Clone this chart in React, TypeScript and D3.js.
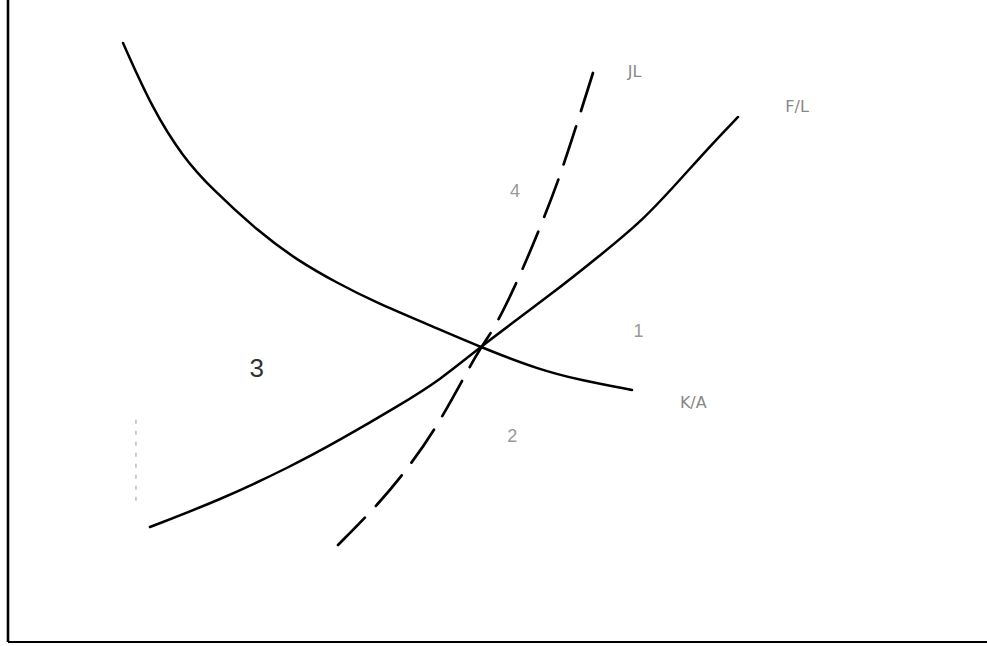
import React from "react";
import * as d3 from "d3";

const W = 987;
const H = 646;

// data in chart units (x: 0..10, y: 0..10)
const kaCurve: [number, number][] = [
  [1.175, 9.33], [1.481, 8.287], [1.788, 7.555], [2.063, 7.087], [2.574, 6.371],
  [2.952, 5.95], [3.361, 5.592], [3.769, 5.28], [4.28, 4.953], [4.821, 4.595],
  [5.434, 4.237], [5.843, 4.081], [6.374, 3.925],
];
const flCurve: [number, number][] = [
  [1.45, 1.791], [2.165, 2.212], [2.88, 2.726], [3.391, 3.146], [4.004, 3.692],
  [4.413, 4.081], [4.821, 4.595], [5.567, 5.436], [6.078, 6.059], [6.486, 6.573],
  [6.834, 7.15], [7.201, 7.773], [7.457, 8.178],
];
const jlCurve: [number, number][] = [
  [5.975, 8.863], [5.792, 7.975], [5.618, 7.165], [5.414, 6.371], [5.179, 5.53],
  [4.944, 4.813], [4.821, 4.595], [4.443, 3.505], [4.137, 2.804], [3.779, 2.134],
  [3.371, 1.511],
];
const curveLabels: { text: string; x: number; y: number }[] = [
  { text: "JL", x: 6.4, y: 8.8 },
  { text: "F/L", x: 8.06, y: 8.26 },
  { text: "K/A", x: 7.0, y: 3.64 },
];
const regionLabels: { text: string; x: number; y: number }[] = [
  { text: "3", x: 2.54, y: 4.13 },
  { text: "4", x: 5.18, y: 6.93 },
  { text: "1", x: 6.44, y: 4.75 },
  { text: "2", x: 5.15, y: 3.12 },
];
const guide: [number, number][] = [[1.307, 3.46], [1.307, 2.13]];

export default function App() {
  const x = d3.scaleLinear().domain([0, 10]).range([8, 987]);
  const y = d3.scaleLinear().domain([0, 10]).range([642, 0]);
  const line = d3
    .line<[number, number]>()
    .x((d) => x(d[0]))
    .y((d) => y(d[1]))
    .curve(d3.curveBasis);
  const straight = d3
    .line<[number, number]>()
    .x((d) => x(d[0]))
    .y((d) => y(d[1]));

  return (
    <svg
      width={W}
      height={H}
      style={{ position: "absolute", left: 0, top: 0, background: "#fff" }}
    >
      <rect x={0} y={0} width={W} height={H} fill="#fff" />
      {/* axes */}
      <line x1={x(0)} y1={0} x2={x(0)} y2={y(0)} stroke="#000" strokeWidth={2.6} />
      <line x1={x(0)} y1={y(0)} x2={W} y2={y(0)} stroke="#000" strokeWidth={1.8} />
      {/* faint guide */}
      <path d={straight(guide) || ""} stroke="#aaa" strokeWidth={1.2} strokeDasharray="4,7" fill="none" />
      {/* curves */}
      <path d={line(kaCurve) || ""} stroke="#000" strokeWidth={2.5} fill="none" strokeLinecap="round" />
      <path d={line(flCurve) || ""} stroke="#000" strokeWidth={2.5} fill="none" strokeLinecap="round" />
      <path
        d={line(jlCurve) || ""}
        stroke="#000"
        strokeWidth={2.7}
        fill="none"
        strokeDasharray="40,16"
        strokeLinecap="round"
      />
      {curveLabels.map((l) => (
        <text
          key={l.text}
          x={x(l.x)}
          y={y(l.y)}
          fontFamily="DejaVu Sans, sans-serif"
          fontSize={16}
          fill="#888"
          textAnchor="middle"
        >
          {l.text}
        </text>
      ))}
      {regionLabels.map((l) => (
        <text
          key={l.text}
          x={x(l.x)}
          y={y(l.y)}
          fontFamily="Liberation Sans, sans-serif"
          fontSize={l.text === "3" ? 26 : 18}
          fill={l.text === "3" ? "#333" : "#999"}
          textAnchor="middle"
        >
          {l.text}
        </text>
      ))}
    </svg>
  );
}
